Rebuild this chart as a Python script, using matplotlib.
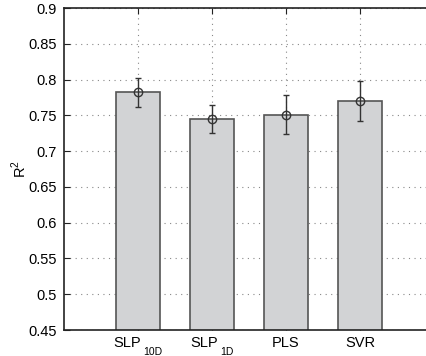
import matplotlib
matplotlib.use("Agg")
import matplotlib.pyplot as plt
from matplotlib.transforms import blended_transform_factory, offset_copy

plt.rcParams['font.family'] = ['Liberation Sans', 'DejaVu Sans']
plt.rcParams['mathtext.fontset'] = 'custom'
plt.rcParams['mathtext.rm'] = 'Liberation Sans'

names = ['SLP', 'SLP', 'PLS', 'SVR']
subs = ['10D', '1D', '', '']
r2_mean = [0.782, 0.745, 0.751, 0.770]
r2_err = [0.020, 0.019, 0.027, 0.028]
positions = [1, 2, 3, 4]
yticks = [0.45, 0.5, 0.55, 0.6, 0.65, 0.7, 0.75, 0.8, 0.85, 0.9]
ytick_labels = ['0.45', '0.5', '0.55', '0.6', '0.65', '0.7', '0.75', '0.8', '0.85', '0.9']

W, H = 426, 356
FS, FS_SUB = 10.5, 7.5
fig = plt.figure(figsize=(W / 100, H / 100), dpi=100)
# right edge of the box falls just outside the picture (cropped like the original)
ax = fig.add_axes([64 / W, 26 / H, 370 / W, 322 / H])

ax.bar(positions, r2_mean, width=0.6, color='#d2d3d5', edgecolor='#555555',
       linewidth=1.2, zorder=2)
ax.errorbar(positions, r2_mean, yerr=r2_err, fmt='o', mfc='none', mec='#333333',
            ms=6, ecolor='#333333', elinewidth=1.0, capsize=2.2, capthick=1.0,
            zorder=3)

ax.set_xlim(0, 5)
ax.set_ylim(0.45, 0.9)
ax.set_xticks(positions)
ax.set_xticklabels([])
ax.set_yticks(yticks)
ax.set_yticklabels(ytick_labels, fontsize=FS)
ax.set_ylabel(r'R$^\mathregular{2}$', fontsize=FS)
ax.yaxis.set_label_coords(-0.095, 0.5)

# category labels with a deep MATLAB-style subscript
renderer = fig.canvas.get_renderer()
trans = blended_transform_factory(ax.transData, ax.transAxes)
GAP = 2
for x, name, sub in zip(positions, names, subs):
    t_main = ax.text(x, 0, name, fontsize=FS, ha='left', va='top', transform=trans)
    w_main = t_main.get_window_extent(renderer).width
    w_sub = 0
    if sub:
        t_sub = ax.text(x, 0, sub, fontsize=FS_SUB, ha='left', va='top', transform=trans)
        w_sub = t_sub.get_window_extent(renderer).width + GAP
    x0 = -(w_main + w_sub) / 2
    t_main.set_transform(offset_copy(trans, fig=fig, x=x0, y=-6, units='dots'))
    if sub:
        t_sub.set_transform(offset_copy(trans, fig=fig, x=x0 + w_main + GAP, y=-17, units='dots'))

ax.grid(True, ls=(0, (1, 4)), color='#888888', lw=0.8, zorder=0)
ax.set_axisbelow(True)
ax.tick_params(direction='in', top=True, right=True, length=4, width=0.8,
               color='#222222', pad=5)
for s in ax.spines.values():
    s.set_linewidth(1.2)
    s.set_color('#222222')

fig.savefig('out.png', dpi=100)
